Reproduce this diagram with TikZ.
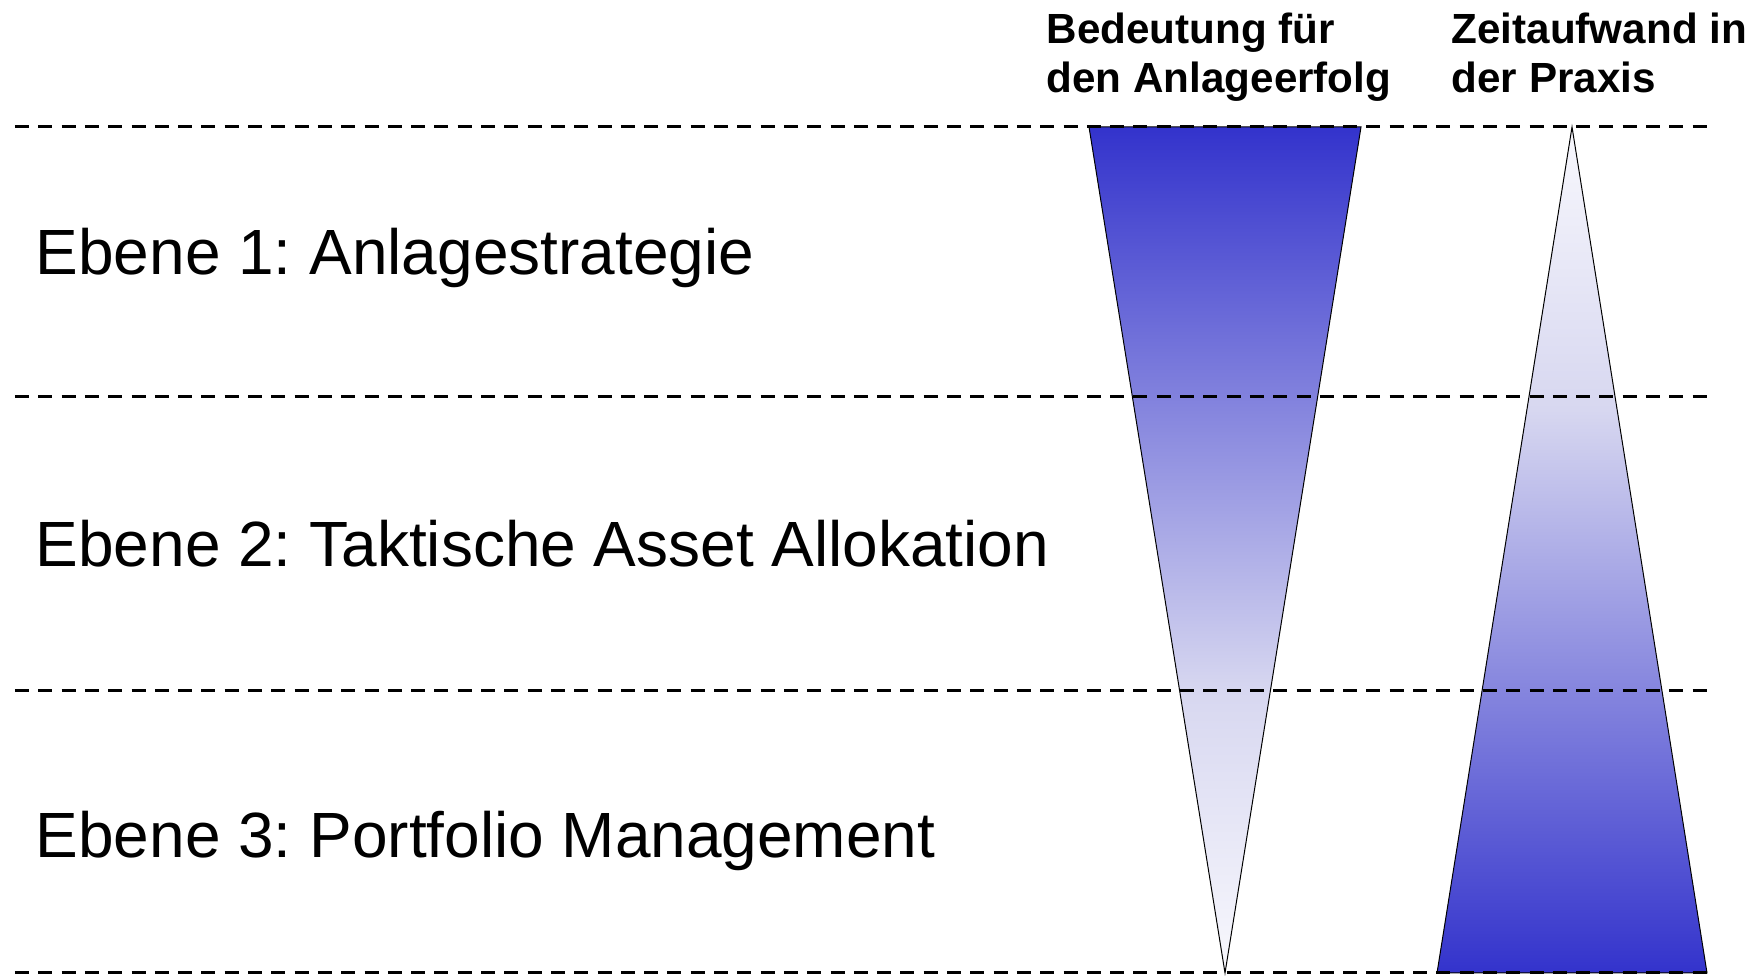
\documentclass[tikz,border=0pt]{standalone}
\usepackage{fontspec}
\setmainfont{Liberation Sans}
\usepackage{tikz}
\usetikzlibrary{positioning}
\frenchspacing

\definecolor{pfblue}{RGB}{51,51,204}
\definecolor{pfmid}{RGB}{215,215,240}
\definecolor{pflight}{RGB}{248,248,253}

% blue on top, fading out downwards, and the other way round
\pgfdeclareverticalshading{fadedown}{100bp}{color(0bp)=(pflight); color(25bp)=(pflight); color(41.7bp)=(pfmid); color(75bp)=(pfblue); color(100bp)=(pfblue)}
\pgfdeclareverticalshading{fadeup}{100bp}{color(0bp)=(pfblue); color(25bp)=(pfblue); color(58.3bp)=(pfmid); color(75bp)=(pflight); color(100bp)=(pflight)}

\begin{document}
\begin{tikzpicture}
        \useasboundingbox (0, 0) rectangle (17.64, 9.76);

        \tikzset{
                level/.style = {anchor = base west, inner sep = 0, font = \fontsize{18.2}{22}\selectfont},
                header/.style = {anchor = base west, inner sep = 0, align = left, font = \bfseries\fontsize{12}{13.8}\selectfont},
                sep/.style = {line width = 0.03cm, dash pattern = on 0.14cm off 0.093cm},
                wedge/.style = {draw, line width = 0.01cm, shade}
        }

        \coordinate (lineA) at (0.15, 8.49);
        \coordinate (lineB) at (0.15, 5.79);
        \coordinate (lineC) at (0.15, 2.85);
        \coordinate (lineD) at (0.15, 0.03);

        \node[level] (ebene1) at (0.35, 7.01) {Ebene 1: Anlagestrategie};
        \node[level] (ebene2) at (0.35, 4.095) {Ebene 2: Taktische Asset Allokation};
        \node[level] (ebene3) at (0.35, 1.18) {Ebene 3: Portfolio Management};

        \node[header] (bedeutung) at (10.46, 8.835) {Bedeutung für\\den Anlageerfolg};
        \node[header] (zeitaufwand) at (14.51, 8.835) {Zeitaufwand in\\der Praxis};

        \draw[wedge, shading = fadedown] (10.89, 8.49) -- (13.61, 8.49) -- (12.25, 0.03) -- cycle;
        \draw[wedge, shading = fadeup] (15.72, 8.49) -- (17.07, 0.03) -- (14.37, 0.03) -- cycle;

        \draw[sep] (lineA) -- ++(16.95, 0);
        \draw[sep] (lineB) -- ++(16.95, 0);
        \draw[sep] (lineC) -- ++(16.95, 0);
        \draw[sep] (lineD) -- ++(16.95, 0);
      \end{tikzpicture}
\end{document}
